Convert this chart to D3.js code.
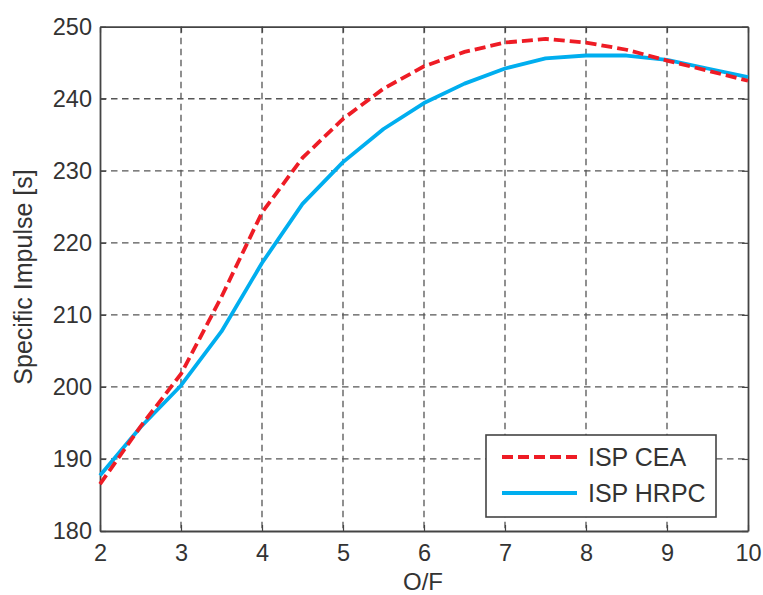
<!DOCTYPE html>
<html>
<head>
<meta charset="utf-8">
<script src="https://cdn.jsdelivr.net/npm/d3@7"></script>
<style>
  html, body { margin: 0; padding: 0; background: #fff; }
  svg { display: block; }
  text { font-family: "Liberation Sans", Arial, Helvetica, sans-serif; fill: #333; }
</style>
</head>
<body>
<svg id="chart" width="763" height="595"></svg>
<script>
const ofRatio = [2, 2.5, 3, 3.5, 4, 4.5, 5, 5.5, 6, 6.5, 7, 7.5, 8, 8.5, 9, 9.5, 10];
const ispCEA  = [186.5, 194.5, 201.8, 212.5, 224.2, 231.8, 237.2, 241.4, 244.5, 246.5, 247.8, 248.3, 247.8, 246.8, 245.3, 243.9, 242.5];
const ispHRPC = [187.7, 194.4, 200.2, 207.7, 217.2, 225.4, 231.2, 235.8, 239.4, 242.1, 244.2, 245.6, 246.0, 246.0, 245.4, 244.2, 243.0];
const xTicks = [2, 3, 4, 5, 6, 7, 8, 9, 10];
const yTicks = [180, 190, 200, 210, 220, 230, 240, 250];
const seriesNames = ["ISP CEA", "ISP HRPC"];

const svg = d3.select("#chart");
const L = 100, R = 748, T = 26.7, B = 531;
const x = d3.scaleLinear().domain([2, 10]).range([L, R]);
const y = d3.scaleLinear().domain([180, 250]).range([B, T]);
const axisColor = "#444";

// grid
const grid = svg.append("g").attr("stroke", "#555").attr("stroke-width", 1.3).attr("stroke-dasharray", "6.5,4.5");
grid.selectAll(".gx").data(xTicks.slice(1, -1)).join("line")
  .attr("x1", d => x(d)).attr("x2", d => x(d)).attr("y1", T).attr("y2", B);
grid.selectAll(".gy").data(yTicks.slice(1, -1)).join("line")
  .attr("y1", d => y(d)).attr("y2", d => y(d)).attr("x1", L).attr("x2", R);

// axes (inner ticks, all sides)
const tl = 6;
const gB = svg.append("g").attr("transform", `translate(0,${B})`)
  .call(d3.axisBottom(x).tickValues(xTicks).tickSizeInner(-tl).tickSizeOuter(0).tickPadding(13).tickFormat(d3.format("d")));
const gT = svg.append("g").attr("transform", `translate(0,${T})`)
  .call(d3.axisTop(x).tickValues(xTicks).tickSizeInner(-tl).tickSizeOuter(0).tickFormat(""));
const gL = svg.append("g").attr("transform", `translate(${L},0)`)
  .call(d3.axisLeft(y).tickValues(yTicks).tickSizeInner(-tl).tickSizeOuter(0).tickPadding(8).tickFormat(d3.format("d")));
const gR = svg.append("g").attr("transform", `translate(${R},0)`)
  .call(d3.axisRight(y).tickValues(yTicks).tickSizeInner(-tl).tickSizeOuter(0).tickFormat(""));
[gB, gT, gL, gR].forEach(g => {
  g.selectAll("path.domain").attr("stroke", axisColor).attr("stroke-width", 1.8);
  g.selectAll(".tick line").attr("stroke", axisColor).attr("stroke-width", 1.2);
  g.selectAll("text").attr("font-size", 23.5).attr("fill", "#333")
    .attr("font-family", "'Liberation Sans', Arial, Helvetica, sans-serif");
});

// lines
const lineGen = (vals) => d3.line().x((d, i) => x(ofRatio[i])).y(d => y(d))(vals);
svg.append("path").attr("d", lineGen(ispHRPC)).attr("fill", "none")
  .attr("stroke", "#00aeef").attr("stroke-width", 3.8).attr("stroke-linejoin", "round");
svg.append("path").attr("d", lineGen(ispCEA)).attr("fill", "none")
  .attr("stroke", "#ee1c25").attr("stroke-width", 3.8).attr("stroke-dasharray", "11,5");

// labels
svg.append("text").attr("x", 423).attr("y", 590).attr("text-anchor", "middle")
  .attr("font-size", 24).text("O/F");
svg.append("text").attr("transform", "translate(32,277) rotate(-90)").attr("text-anchor", "middle")
  .attr("font-size", 25).text("Specific Impulse [s]");

// legend
const lg = svg.append("g");
lg.append("rect").attr("x", 486).attr("y", 435).attr("width", 230).attr("height", 82)
  .attr("fill", "#fff").attr("stroke", axisColor).attr("stroke-width", 1.6);
const legendItems = [
  { name: seriesNames[0], color: "#ee1c25", dash: "11,5", cy: 457 },
  { name: seriesNames[1], color: "#00aeef", dash: null, cy: 493 }
];
legendItems.forEach(it => {
  lg.append("line").attr("x1", 502).attr("x2", 577).attr("y1", it.cy).attr("y2", it.cy)
    .attr("stroke", it.color).attr("stroke-width", 3.8).attr("stroke-dasharray", it.dash);
  lg.append("text").attr("x", 588).attr("y", it.cy + 9).attr("font-size", 25).text(it.name);
});
</script>
</body>
</html>
